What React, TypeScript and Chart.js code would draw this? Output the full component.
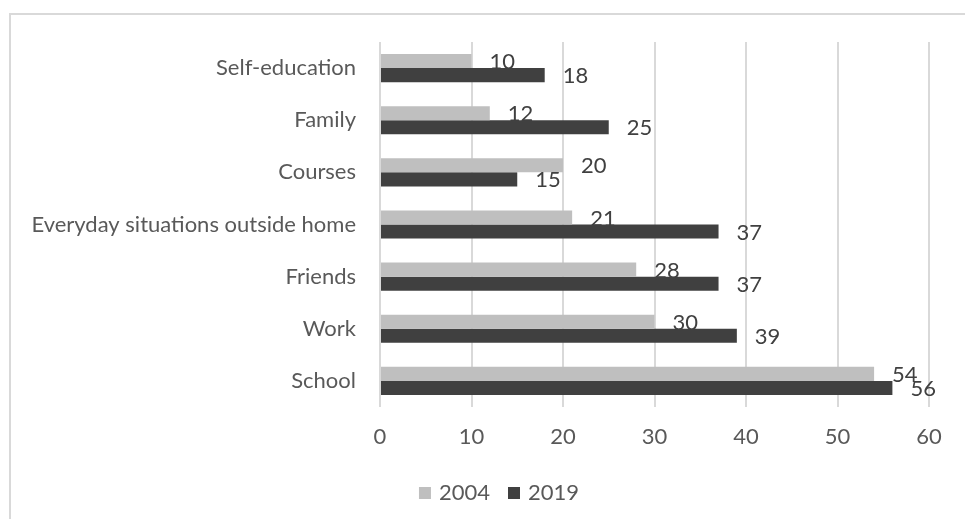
import React, { useEffect, useRef } from "react";
import { Chart, registerables } from "chart.js";

Chart.register(...registerables);

const categories = [
  "Self-education",
  "Family",
  "Courses",
  "Everyday situations outside home",
  "Friends",
  "Work",
  "School",
];
const values2004 = [10, 12, 20, 21, 28, 30, 54];
const values2019 = [18, 25, 15, 37, 37, 39, 56];
const xTicks = [0, 10, 20, 30, 40, 50, 60];

const FONT = "Lato";
const FS = 22;

const labelPlugin = {
  id: "barValueLabels",
  afterDatasetsDraw(chart: any) {
    const ctx = chart.ctx;
    ctx.save();
    ctx.font = `${FS}px ${FONT}`;
    ctx.fillStyle = "#404040";
    ctx.textAlign = "left";
    ctx.textBaseline = "middle";
    chart.data.datasets.forEach((ds: any, di: number) => {
      const meta = chart.getDatasetMeta(di);
      meta.data.forEach((bar: any, i: number) => {
        ctx.fillText(String(ds.data[i]), bar.x + 18, bar.y + 1);
      });
    });
    ctx.restore();
  },
};

const LEGEND_CENTER_X = 499;
const LEGEND_CENTER_Y = 493;

const legendPlugin = {
  id: "customLegend",
  afterDraw(chart: any) {
    const ctx = chart.ctx;
    ctx.save();
    ctx.font = `${FS}px ${FONT}`;
    ctx.textBaseline = "middle";
    ctx.textAlign = "left";
    const box = 12;
    const gap = 8;
    const itemGap = 18;
    const items = chart.data.datasets.map((ds: any) => ({
      text: ds.label,
      color: ds.backgroundColor,
      w: ctx.measureText(ds.label).width,
    }));
    const total =
      items.reduce((s: number, it: any) => s + box + gap + it.w, 0) + itemGap * (items.length - 1);
    let x = LEGEND_CENTER_X - total / 2;
    items.forEach((it: any) => {
      ctx.fillStyle = it.color;
      ctx.fillRect(x, LEGEND_CENTER_Y - box / 2, box, box);
      x += box + gap;
      ctx.fillStyle = "#595959";
      ctx.fillText(it.text, x, LEGEND_CENTER_Y);
      x += it.w + itemGap;
    });
    ctx.restore();
  },
};

export default function App() {
  const ref = useRef<HTMLCanvasElement | null>(null);
  useEffect(() => {
    document.body.style.margin = "0";
    document.body.style.overflow = "hidden";
    const chart = new Chart(ref.current as HTMLCanvasElement, {
      type: "bar",
      data: {
        labels: categories,
        datasets: [
          {
            label: "2004",
            data: values2004,
            backgroundColor: "#bfbfbf",
            categoryPercentage: 0.54,
            barPercentage: 1,
          },
          {
            label: "2019",
            data: values2019,
            backgroundColor: "#404040",
            categoryPercentage: 0.54,
            barPercentage: 1,
          },
        ],
      },
      options: {
        indexAxis: "y",
        animation: false,
        responsive: false,
        maintainAspectRatio: false,
        layout: { padding: { top: 42, right: 71, left: 0, bottom: 50 } },
        scales: {
          x: {
            min: 0,
            max: 60,
            afterBuildTicks: (axis: any) => {
              axis.ticks = xTicks.map((v) => ({ value: v }));
            },
            afterFit: (axis: any) => {
              axis.height = 62;
            },
            grid: { color: "#d9d9d9", lineWidth: 2, drawTicks: false },
            border: { display: false },
            ticks: {
              color: "#595959",
              font: { family: FONT, size: FS },
              padding: 17,
            },
          },
          y: {
            grid: { display: false, drawTicks: false },
            border: { display: false },
            afterFit: (axis: any) => {
              axis.width = 380;
            },
            ticks: {
              color: "#595959",
              font: { family: FONT, size: FS },
              padding: 24,
            },
          },
        },
        plugins: {
          legend: { display: false },
          tooltip: { enabled: false },
        },
      },
      plugins: [labelPlugin, legendPlugin],
    });
    return () => chart.destroy();
  }, []);
  return (
    <div style={{ position: "relative", width: 965, height: 519, overflow: "hidden", background: "#fff" }}>
      <div
        style={{
          position: "absolute",
          left: 9,
          top: 13,
          width: 1000,
          height: 600,
          borderLeft: "2px solid #d9d9d9",
          borderTop: "2px solid #d9d9d9",
          boxSizing: "border-box",
        }}
      />
      <canvas
        ref={ref}
        width={1000}
        height={519}
        style={{ position: "absolute", left: 0, top: 0, width: 1000, height: 519 }}
      />
    </div>
  );
}
